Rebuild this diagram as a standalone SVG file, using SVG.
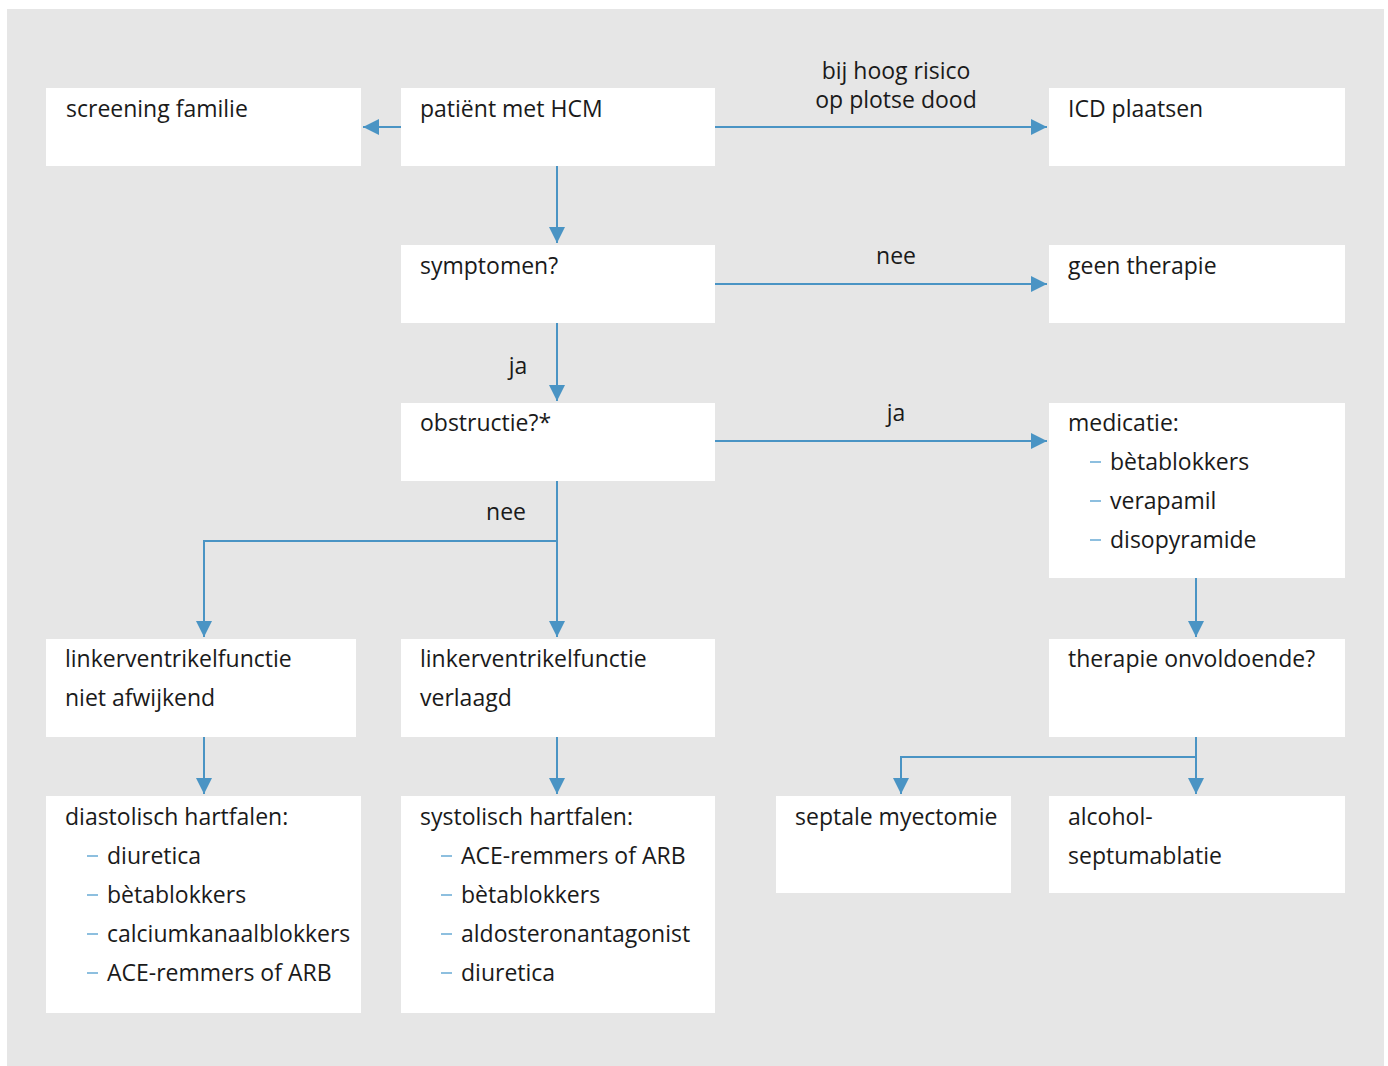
<svg xmlns="http://www.w3.org/2000/svg" width="1388" height="1066" viewBox="0 0 1388 1066">
<style>
.box{fill:#ffffff}
.t{font-family:"Open Sans","Noto Sans","Liberation Sans",sans-serif;font-size:23px;fill:#1a1a1a}
.lbl{font-family:"Open Sans","Noto Sans","Liberation Sans",sans-serif;font-size:23px;fill:#1a1a1a;text-anchor:middle}
.c{fill:none;stroke:#4a94c4;stroke-width:2}
.d{stroke:#8dbfdf;stroke-width:2}
</style>
<defs>
<marker id="ah" markerWidth="16" markerHeight="16" refX="16" refY="8" orient="auto" markerUnits="userSpaceOnUse">
<path d="M0,0 L16,8 L0,16 Z" fill="#4a94c4"/>
</marker>
</defs>
<rect x="7" y="9" width="1377" height="1057" fill="#e6e6e6"/>
<g id="connectors">
<line class="c" x1="401" y1="127" x2="363" y2="127" marker-end="url(#ah)"/>
<line class="c" x1="715" y1="127" x2="1047" y2="127" marker-end="url(#ah)"/>
<line class="c" x1="557" y1="166" x2="557" y2="243" marker-end="url(#ah)"/>
<line class="c" x1="715" y1="284" x2="1047" y2="284" marker-end="url(#ah)"/>
<line class="c" x1="557" y1="323" x2="557" y2="401" marker-end="url(#ah)"/>
<line class="c" x1="715" y1="441" x2="1047" y2="441" marker-end="url(#ah)"/>
<line class="c" x1="557" y1="481" x2="557" y2="637" marker-end="url(#ah)"/>
<polyline class="c" points="557,541 204,541 204,637" marker-end="url(#ah)"/>
<line class="c" x1="204" y1="737" x2="204" y2="794" marker-end="url(#ah)"/>
<line class="c" x1="557" y1="737" x2="557" y2="794" marker-end="url(#ah)"/>
<line class="c" x1="1196" y1="578" x2="1196" y2="637" marker-end="url(#ah)"/>
<line class="c" x1="1196" y1="737" x2="1196" y2="794" marker-end="url(#ah)"/>
<polyline class="c" points="1196,757 901,757 901,794" marker-end="url(#ah)"/>
<text class="lbl" x="896" y="79">bij hoog risico</text>
<text class="lbl" x="896" y="108">op plotse dood</text>
<text class="lbl" x="896" y="264">nee</text>
<text class="lbl" x="518" y="374">ja</text>
<text class="lbl" x="896" y="421">ja</text>
<text class="lbl" x="506" y="520">nee</text>
</g>
<g id="screening">
<rect class="box" x="46" y="88" width="315" height="78"/>
<text class="t" x="66" y="117">screening familie</text>
</g>
<g id="patient">
<rect class="box" x="401" y="88" width="314" height="78"/>
<text class="t" x="420" y="117">patiënt met HCM</text>
</g>
<g id="icd">
<rect class="box" x="1049" y="88" width="296" height="78"/>
<text class="t" x="1068" y="117">ICD plaatsen</text>
</g>
<g id="symptomen">
<rect class="box" x="401" y="245" width="314" height="78"/>
<text class="t" x="420" y="274">symptomen?</text>
</g>
<g id="geen">
<rect class="box" x="1049" y="245" width="296" height="78"/>
<text class="t" x="1068" y="274">geen therapie</text>
</g>
<g id="obstructie">
<rect class="box" x="401" y="403" width="314" height="78"/>
<text class="t" x="420" y="431">obstructie?*</text>
</g>
<g id="medicatie">
<rect class="box" x="1049" y="403" width="296" height="175"/>
<text class="t" x="1068" y="431">medicatie:</text>
<line class="d" x1="1090" y1="462" x2="1101" y2="462"/>
<text class="t" x="1110" y="470">bètablokkers</text>
<line class="d" x1="1090" y1="501" x2="1101" y2="501"/>
<text class="t" x="1110" y="509">verapamil</text>
<line class="d" x1="1090" y1="540" x2="1101" y2="540"/>
<text class="t" x="1110" y="548">disopyramide</text>
</g>
<g id="lvniet">
<rect class="box" x="46" y="639" width="310" height="98"/>
<text class="t" x="65" y="667">linkerventrikelfunctie</text>
<text class="t" x="65" y="706">niet afwijkend</text>
</g>
<g id="lvverlaagd">
<rect class="box" x="401" y="639" width="314" height="98"/>
<text class="t" x="420" y="667">linkerventrikelfunctie</text>
<text class="t" x="420" y="706">verlaagd</text>
</g>
<g id="onvoldoende">
<rect class="box" x="1049" y="639" width="296" height="98"/>
<text class="t" x="1068" y="667">therapie onvoldoende?</text>
</g>
<g id="diastolisch">
<rect class="box" x="46" y="796" width="315" height="217"/>
<text class="t" x="65" y="825">diastolisch hartfalen:</text>
<line class="d" x1="87" y1="856" x2="98" y2="856"/>
<text class="t" x="107" y="864">diuretica</text>
<line class="d" x1="87" y1="895" x2="98" y2="895"/>
<text class="t" x="107" y="903">bètablokkers</text>
<line class="d" x1="87" y1="934" x2="98" y2="934"/>
<text class="t" x="107" y="942">calciumkanaalblokkers</text>
<line class="d" x1="87" y1="973" x2="98" y2="973"/>
<text class="t" x="107" y="981">ACE-remmers of ARB</text>
</g>
<g id="systolisch">
<rect class="box" x="401" y="796" width="314" height="217"/>
<text class="t" x="420" y="825">systolisch hartfalen:</text>
<line class="d" x1="441" y1="856" x2="452" y2="856"/>
<text class="t" x="461" y="864">ACE-remmers of ARB</text>
<line class="d" x1="441" y1="895" x2="452" y2="895"/>
<text class="t" x="461" y="903">bètablokkers</text>
<line class="d" x1="441" y1="934" x2="452" y2="934"/>
<text class="t" x="461" y="942">aldosteronantagonist</text>
<line class="d" x1="441" y1="973" x2="452" y2="973"/>
<text class="t" x="461" y="981">diuretica</text>
</g>
<g id="myectomie">
<rect class="box" x="776" y="796" width="235" height="97"/>
<text class="t" x="795" y="825">septale myectomie</text>
</g>
<g id="alcohol">
<rect class="box" x="1049" y="796" width="296" height="97"/>
<text class="t" x="1068" y="825">alcohol-</text>
<text class="t" x="1068" y="864">septumablatie</text>
</g>
</svg>
